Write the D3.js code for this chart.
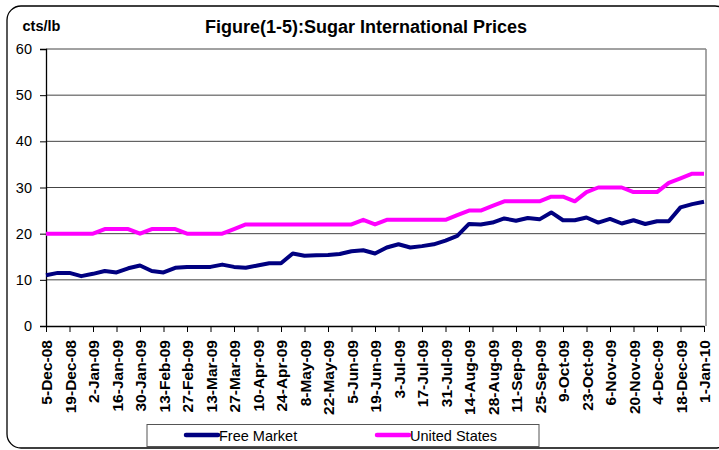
<!DOCTYPE html>
<html>
<head>
<meta charset="utf-8">
<script src="https://cdn.jsdelivr.net/npm/d3@7"></script>
<style>
  body { margin: 0; background: #fff; }
  svg { display: block; font-family: Arial, "Liberation Sans", sans-serif; }
</style>
</head>
<body>
<script>
// weekly prices, cts/lb, 5-Dec-08 .. 1-Jan-10
var startWeek = new Date(2008, 11, 5);
var weeks = d3.range(57).map(function(i) { return d3.timeDay.offset(startWeek, 7 * i); });

var freeMarket = [
  11.0, 11.5, 11.5, 10.8, 11.3, 11.9, 11.6, 12.5, 13.1, 11.9,
  11.6, 12.6, 12.8, 12.8, 12.8, 13.3, 12.8, 12.6, 13.1, 13.6,
  13.6, 15.7, 15.2, 15.3, 15.4, 15.6, 16.2, 16.4, 15.7, 17.0,
  17.7, 17.0, 17.3, 17.7, 18.5, 19.5, 22.1, 22.0, 22.4, 23.3,
  22.8, 23.4, 23.1, 24.6, 22.9, 22.9, 23.5, 22.4, 23.2, 22.2,
  22.9, 22.1, 22.7, 22.7, 25.7, 26.4, 26.9
];
var unitedStates = [
  20, 20, 20, 20, 20, 21, 21, 21, 20, 21,
  21, 21, 20, 20, 20, 20, 21, 22, 22, 22,
  22, 22, 22, 22, 22, 22, 22, 23, 22, 23,
  23, 23, 23, 23, 23, 24, 25, 25, 26, 27,
  27, 27, 27, 28, 28, 27, 29, 30, 30, 30,
  29, 29, 29, 31, 32, 33, 33
];
var yTicks = [0, 10, 20, 30, 40, 50, 60];
var series = [
  { name: 'Free Market', values: freeMarket, color: '#000080' },
  { name: 'United States', values: unitedStates, color: '#ff00ff' }
];

var fmt = d3.timeFormat('%-d-%b-%y');
var W = 719, H = 450;
var plotL = 46, plotR = 704, plotT = 49, plotB = 326;

var svg = d3.select('body').append('svg').attr('width', W).attr('height', H);

// outer chart frame
svg.append('rect')
  .attr('x', 7).attr('y', 6).attr('width', 722).attr('height', 442)
  .attr('rx', 14).attr('fill', '#fff')
  .attr('stroke', '#000').attr('stroke-width', 1.3);

var x = d3.scalePoint().domain(weeks.map(fmt)).range([plotL, plotR]);
var y = d3.scaleLinear().domain([0, 60]).range([plotB, plotT]);

// grid
svg.append('g').selectAll('line')
  .data(yTicks.slice(1))
  .join('line')
    .attr('x1', plotL).attr('x2', 706)
    .attr('y1', function(d) { return y(d); })
    .attr('y2', function(d) { return y(d); })
    .attr('stroke', '#444').attr('stroke-width', 1);
svg.append('line')
  .attr('x1', 706).attr('x2', 706).attr('y1', plotT).attr('y2', plotB)
  .attr('stroke', '#888').attr('stroke-width', 1.5);

// y axis
var yAxis = svg.append('g')
  .attr('transform', 'translate(' + plotL + ',0)')
  .call(d3.axisLeft(y).tickValues(yTicks).tickSize(6).tickPadding(8));
yAxis.select('.domain').attr('stroke', '#000').attr('stroke-width', 1.3);
yAxis.selectAll('.tick line').attr('stroke', '#000');
yAxis.selectAll('text')
  .attr('font-size', '14.5px').attr('font-family', 'Arial, "Liberation Sans", sans-serif')
  .attr('fill', '#000');

// x axis: label every second week
var xLabels = weeks.filter(function(d, i) { return i % 2 === 0; }).map(fmt);
var xAxis = svg.append('g')
  .attr('transform', 'translate(0,' + plotB + ')')
  .call(d3.axisBottom(x).tickValues(xLabels).tickSize(6).tickSizeOuter(0));
xAxis.select('.domain').attr('stroke', '#000').attr('stroke-width', 1.3);
xAxis.selectAll('.tick line').attr('stroke', '#000');
xAxis.selectAll('text')
  .attr('font-size', '15.5px').attr('font-weight', 'bold')
  .attr('font-family', 'Arial, "Liberation Sans", sans-serif')
  .attr('fill', '#000')
  .attr('text-anchor', 'end')
  .attr('transform', 'rotate(-90)')
  .attr('x', -14).attr('y', 0).attr('dy', '0.36em');

// lines
var line = d3.line()
  .x(function(d, i) { return x(fmt(weeks[i])); })
  .y(function(d) { return y(d); });

svg.append('g').selectAll('path')
  .data(series.slice().reverse())
  .join('path')
    .attr('d', function(s) { return line(s.values); })
    .attr('fill', 'none')
    .attr('stroke', function(s) { return s.color; })
    .attr('stroke-width', 4)
    .attr('stroke-linejoin', 'round');

// titles
svg.append('text')
  .attr('x', 366).attr('y', 33)
  .attr('text-anchor', 'middle')
  .attr('font-size', '18px').attr('font-weight', 'bold')
  .text('Figure(1-5):Sugar International Prices');
svg.append('text')
  .attr('x', 22.5).attr('y', 31)
  .attr('font-size', '14.5px').attr('font-weight', 'bold')
  .text('cts/lb');

// legend
var legend = svg.append('g');
legend.append('rect')
  .attr('x', 147).attr('y', 424.5).attr('width', 392).attr('height', 22)
  .attr('fill', '#fff').attr('stroke', '#555').attr('stroke-width', 1);
var legendX = [186, 377];
var item = legend.selectAll('g.item')
  .data(series)
  .join('g')
    .attr('class', 'item')
    .attr('transform', function(d, i) { return 'translate(' + legendX[i] + ',435)'; });
item.append('line')
  .attr('x1', 0).attr('x2', 32)
  .attr('stroke', function(d) { return d.color; })
  .attr('stroke-width', 4.5).attr('stroke-linecap', 'round');
item.append('text')
  .attr('x', 33).attr('y', 5.5)
  .attr('font-size', '14.5px')
  .text(function(d) { return d.name; });
</script>
</body>
</html>
